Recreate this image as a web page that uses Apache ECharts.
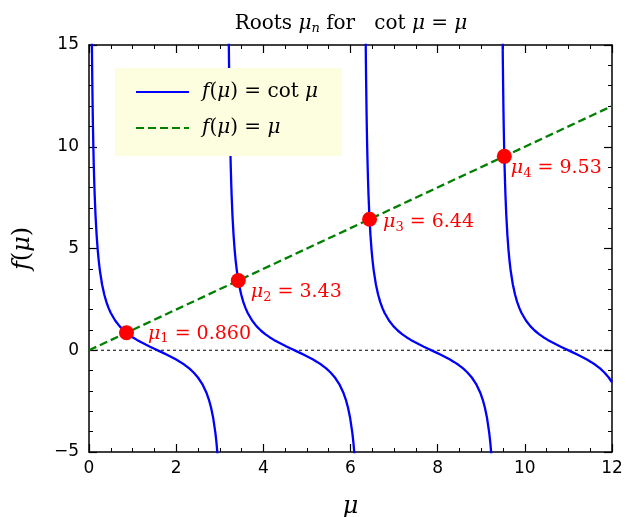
<!DOCTYPE html>
<html>
<head>
<meta charset="utf-8">
<script src="https://cdn.jsdelivr.net/npm/echarts@6/dist/echarts.min.js"></script>
<style>html,body{margin:0;padding:0;background:#fff}#c{width:627px;height:517px}</style>
</head>
<body>
<div id="c"></div>
<script>
// Branches of f(mu) = cot(mu), sampled values [x, y]
var cotBranch1 = [[0.065,15.36],[0.07,14.26],[0.075,13.31],[0.085,11.74],[0.09,11.08],[0.1,9.967],[0.11,9.054],[0.12,8.293],[0.13,7.649],[0.15,6.617],[0.175,5.656],[0.2,4.933],[0.225,4.369],[0.25,3.916],[0.3,3.233],[0.35,2.739],[0.4,2.365],[0.45,2.070],[0.5,1.830],[0.6,1.462],[0.7,1.187],[0.8,0.971],[0.9,0.794],[1.0,0.642],[1.1,0.509],[1.2,0.389],[1.3,0.278],[1.4,0.172],[1.5,0.071],[1.6,-0.029],[1.7,-0.130],[1.8,-0.233],[1.9,-0.342],[2.0,-0.458],[2.1,-0.585],[2.2,-0.728],[2.3,-0.894],[2.4,-1.092],[2.5,-1.339],[2.6,-1.662],[2.7,-2.115],[2.75,-2.422],[2.8,-2.813],[2.85,-3.332],[2.9,-4.058],[2.925,-4.545],[2.95,-5.155]];
var cotBranch2 = [[3.207,15.36],[3.212,14.26],[3.217,13.31],[3.227,11.74],[3.232,11.08],[3.242,9.967],[3.252,9.054],[3.262,8.293],[3.272,7.649],[3.292,6.617],[3.317,5.656],[3.342,4.933],[3.367,4.369],[3.392,3.916],[3.442,3.233],[3.492,2.739],[3.542,2.365],[3.592,2.070],[3.642,1.830],[3.742,1.462],[3.842,1.187],[3.942,0.971],[4.042,0.794],[4.142,0.642],[4.242,0.509],[4.342,0.389],[4.442,0.278],[4.542,0.172],[4.642,0.071],[4.742,-0.029],[4.842,-0.130],[4.942,-0.233],[5.042,-0.342],[5.142,-0.458],[5.242,-0.585],[5.342,-0.728],[5.442,-0.894],[5.542,-1.092],[5.642,-1.339],[5.742,-1.662],[5.842,-2.115],[5.892,-2.422],[5.942,-2.813],[5.992,-3.332],[6.042,-4.058],[6.067,-4.545],[6.092,-5.155]];
var cotBranch3 = [[6.348,15.36],[6.353,14.26],[6.358,13.31],[6.368,11.74],[6.373,11.08],[6.383,9.967],[6.393,9.054],[6.403,8.293],[6.413,7.649],[6.433,6.617],[6.458,5.656],[6.483,4.933],[6.508,4.369],[6.533,3.916],[6.583,3.233],[6.633,2.739],[6.683,2.365],[6.733,2.070],[6.783,1.830],[6.883,1.462],[6.983,1.187],[7.083,0.971],[7.183,0.794],[7.283,0.642],[7.383,0.509],[7.483,0.389],[7.583,0.278],[7.683,0.172],[7.783,0.071],[7.883,-0.029],[7.983,-0.130],[8.083,-0.233],[8.183,-0.342],[8.283,-0.458],[8.383,-0.585],[8.483,-0.728],[8.583,-0.894],[8.683,-1.092],[8.783,-1.339],[8.883,-1.662],[8.983,-2.115],[9.033,-2.422],[9.083,-2.813],[9.133,-3.332],[9.183,-4.058],[9.208,-4.545],[9.233,-5.155]];
var cotBranch4 = [[9.490,15.36],[9.495,14.26],[9.500,13.31],[9.510,11.74],[9.515,11.08],[9.525,9.967],[9.535,9.054],[9.545,8.293],[9.555,7.649],[9.575,6.617],[9.600,5.656],[9.625,4.933],[9.650,4.369],[9.675,3.916],[9.725,3.233],[9.775,2.739],[9.825,2.365],[9.875,2.070],[9.925,1.830],[10.025,1.462],[10.125,1.187],[10.225,0.971],[10.325,0.794],[10.425,0.642],[10.525,0.509],[10.625,0.389],[10.725,0.278],[10.825,0.172],[10.925,0.071],[11.025,-0.029],[11.125,-0.130],[11.225,-0.233],[11.325,-0.342],[11.425,-0.458],[11.525,-0.585],[11.625,-0.728],[11.725,-0.894],[11.825,-1.092],[11.925,-1.339],[12.0,-1.573]];
// f(mu) = mu
var identityLine = [[0,0],[12,12]];
var zeroLine = [[0,0],[12,0]];
// Roots
var rootX = [0.8603, 3.4256, 6.4373, 9.5293];
var rootY = [0.8603, 3.4256, 6.4373, 9.5293];
var rootIdx = ['1','2','3','4'];
var rootText = ['0.860','3.43','6.44','9.53'];
var xTicks = [0, 2, 4, 6, 8, 10, 12];
var yTicks = [-5, 0, 5, 10, 15];

var SERIF = '"DejaVu Serif", serif';
var labelOffsets = [[14,1],[5,12],[6,3],[-1,12]];

var chart = echarts.init(document.getElementById('c'), null, {renderer:'canvas'});
var axisLineStyle = {color:'#000', width:1.5};
function xAx(pos, showLabel){
  return {type:'value', position:pos, min:xTicks[0], max:xTicks[xTicks.length-1], interval:2,
    axisLine:{show:true, onZero:false, lineStyle:axisLineStyle},
    axisTick:{show:true, inside:true, length:8, lineStyle:{color:'#000', width:1.2}},
    minorTick:{show:true, splitNumber:4, length:4, lineStyle:{color:'#000', width:1}},
    axisLabel:{show:showLabel, color:'#000', fontSize:17, fontFamily:'"DejaVu Sans"', margin:8},
    splitLine:{show:false}};
}
function yAx(pos, showLabel){
  return {type:'value', position:pos, min:yTicks[0], max:yTicks[yTicks.length-1], interval:5,
    axisLine:{show:true, onZero:false, lineStyle:axisLineStyle},
    axisTick:{show:true, inside:true, length:8, lineStyle:{color:'#000', width:1.2}},
    minorTick:{show:true, splitNumber:5, length:4, lineStyle:{color:'#000', width:1}},
    axisLabel:{show:showLabel, color:'#000', fontSize:17, fontFamily:'"DejaVu Sans"', margin:10,
      formatter:function(v){return v<0 ? '\u2212'+Math.abs(v) : String(v);}},
    splitLine:{show:false}};
}
var xMain = xAx('bottom', true);
xMain.name = '{i|μ}'; xMain.nameLocation='middle'; xMain.nameGap=43;
xMain.nameTextStyle = {rich:{i:{fontFamily:SERIF, fontStyle:'italic', fontSize:24, color:'#000'}}};
var yMain = yAx('left', true);
yMain.name = '{i|f}{n|(}{i|μ}{n|)}'; yMain.nameLocation='middle'; yMain.nameGap=54;
yMain.nameTextStyle = {rich:{i:{fontFamily:SERIF, fontStyle:'italic', fontSize:24, color:'#000'}, n:{fontFamily:SERIF, fontSize:24, color:'#000'}}};

function cotSeries(data, name){
  return {type:'line', name:name, data:data, xAxisIndex:0, yAxisIndex:0, showSymbol:false, symbol:'none',
    lineStyle:{color:'#0000ff', width:2.3}, itemStyle:{color:'#0000ff'}, clip:true, silent:true, z:3};
}
var rootData = rootX.map(function(x,i){
  return {value:[x, rootY[i]], label:{offset:labelOffsets[i],
    formatter:'{m|μ}{s|'+rootIdx[i]+'}{t| = '+rootText[i]+'}'}};
});
var mathRich = {
  i:{fontFamily:SERIF, fontStyle:'italic', fontSize:20, color:'#000'},
  n:{fontFamily:SERIF, fontSize:20, color:'#000'}
};
var option = {
  animation:false,
  backgroundColor:'#fff',
  title:{text:'Roots {i|μ}{s|n} for   cot {i|μ} = {i|μ}', left:346, textAlign:'center', top:7,
    textStyle:{fontFamily:SERIF, fontSize:20, fontWeight:'normal', color:'#000',
      rich:{i:{fontFamily:SERIF, fontStyle:'italic', fontSize:20, color:'#000'},
            s:{fontFamily:SERIF, fontStyle:'italic', fontSize:13, color:'#000', verticalAlign:'bottom', padding:[10,0,0,0]}}}},
  grid:{left:89, right:15, top:45, bottom:65, containLabel:false, outerBoundsMode:'none'},
  legend:{data:['cot','id'], left:115, top:68, orient:'vertical', itemWidth:53, itemHeight:14, itemGap:12,
    backgroundColor:'#fdfde0', borderWidth:0, padding:[12,24,16,20],
    itemStyle:{opacity:0},
    formatter:function(n){
      return n==='cot' ? '{i|f}{n|(}{i|μ}{n|) = cot }{i|μ}' : '{i|f}{n|(}{i|μ}{n|) = }{i|μ}';
    },
    textStyle:{fontSize:20, lineHeight:24, padding:[0,0,0,8], rich:mathRich}},
  xAxis:[xMain, xAx('top', false)],
  yAxis:[yMain, yAx('right', false)],
  series:[
    cotSeries(cotBranch1,'cot'), cotSeries(cotBranch2,'cot'), cotSeries(cotBranch3,'cot'), cotSeries(cotBranch4,'cot'),
    {type:'line', name:'id', data:identityLine, showSymbol:false, symbol:'none',
      lineStyle:{color:'#008000', width:2.3, type:[8,4]}, itemStyle:{color:'#008000'}, silent:true, z:4},
    {type:'line', name:'zero', data:zeroLine, showSymbol:false, symbol:'none',
      lineStyle:{color:'#000', width:1, type:[3,3]}, silent:true, z:2},
    {type:'scatter', name:'roots', data:rootData, symbol:'circle', symbolSize:15,
      itemStyle:{color:'#ff0000', opacity:1}, z:6, silent:true,
      label:{show:true, position:'right', distance:0,
        rich:{m:{fontFamily:SERIF, fontStyle:'italic', fontSize:19, color:'#ff0000'},
              s:{fontFamily:SERIF, fontSize:13, color:'#ff0000', verticalAlign:'bottom', padding:[10,0,0,0]},
              t:{fontFamily:SERIF, fontSize:19, color:'#ff0000'}}}}
  ]
};
chart.setOption(option);
</script>
</body>
</html>
